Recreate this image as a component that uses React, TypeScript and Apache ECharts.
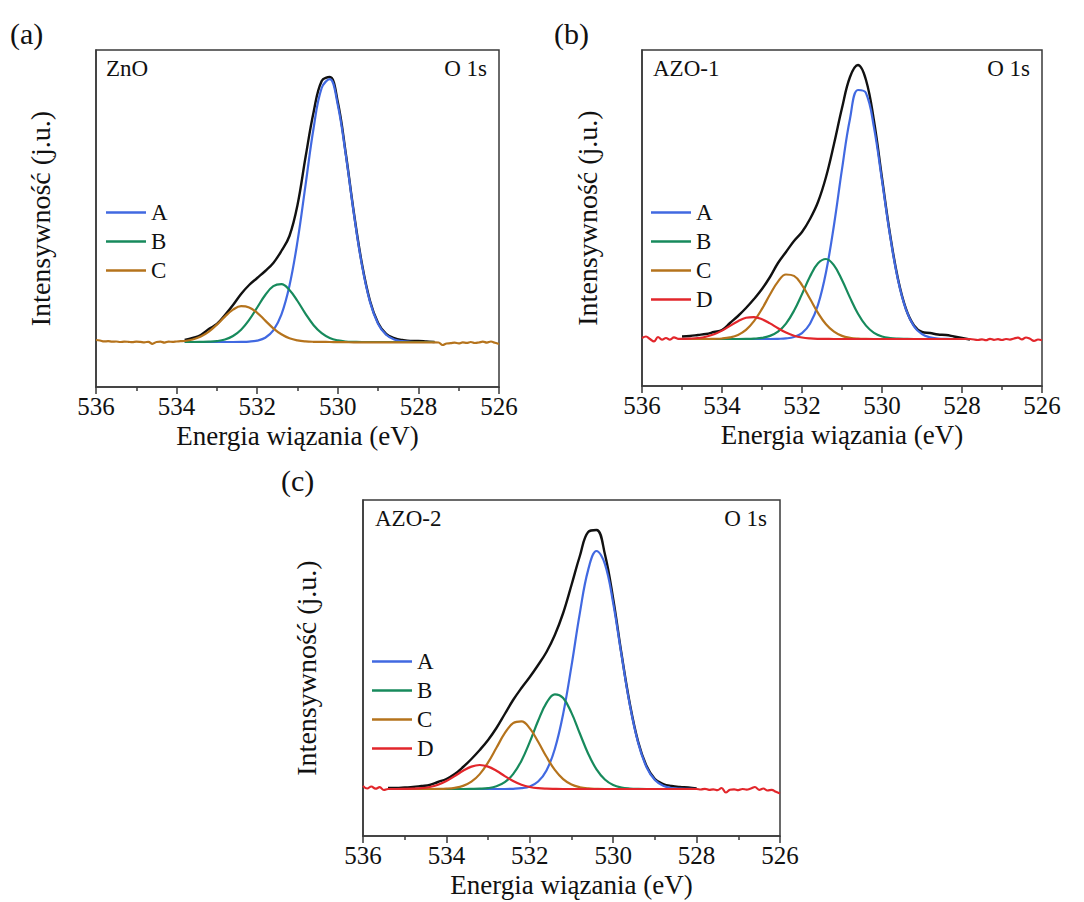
import React, { useEffect, useRef } from 'react';
import * as echarts from 'echarts';

// ---------- Panel (a): ZnO ----------
const ZNO_E = [533.8, 533.6, 533.4, 533.2, 533.0, 532.8, 532.6, 532.4, 532.2, 532.0, 531.8, 531.6, 531.4, 531.2, 531.0, 530.8, 530.6, 530.4, 530.2, 530.0, 529.8, 529.6, 529.4, 529.2, 529.0, 528.8, 528.6, 528.4, 528.2, 528.0, 527.8, 527.6];
const ZNO_EXP = [2, 4, 7, 13, 18, 27, 37, 48, 57, 64, 71, 79, 91, 106, 137, 185, 230, 261, 265, 240, 188, 129, 78, 41, 19, 8, 4, 2, 1, 1, 0.5, 0];
const ZNO_A = [0, 0, 0, 0, 0, 0, 0, 0.1, 0.4, 1.4, 4.3, 11.6, 27.3, 56.2, 100.6, 157.2, 214, 254, 262.9, 237, 186.6, 127.9, 76.6, 39.9, 18.1, 7.2, 2.5, 0.8, 0.2, 0, 0, 0];
const ZNO_B = [0, 0, 0.1, 0.3, 0.9, 2.5, 6.0, 12.3, 22.1, 34.5, 47.0, 55.8, 57.8, 52.1, 41.0, 28.1, 16.8, 8.8, 4.0, 1.6, 0.5, 0.2, 0, 0, 0, 0, 0, 0, 0, 0, 0, 0];
const ZNO_C = [1.0, 2.5, 5.4, 10.4, 17.4, 25.4, 32.3, 35.9, 34.6, 29.2, 21.4, 13.7, 7.7, 3.7, 1.6, 0.6, 0.2, 0.1, 0, -0.1, -0.2, -0.3, -0.3, -0.3, -0.3, -0.3, -0.3, -0.3, -0.3, -0.3, -0.3, -0.3];
const ZNO_LEFT_E = [536.0, 535.9, 535.8, 535.7, 535.6, 535.5, 535.4, 535.3, 535.2, 535.1, 535.0, 534.9, 534.8, 534.7, 534.6, 534.5, 534.4, 534.3, 534.2, 534.1, 534.0, 533.9];
const ZNO_LEFT_N = [2.0, 1.5, 0.6, 0.8, 0.3, 0.5, 0.0, 0.4, 0.2, -0.2, 0.3, 0.1, -0.3, 0.2, -1.8, 0.0, 0.3, -0.6, 0.4, 0.1, 0.5, 0.8];
const ZNO_RIGHT_E = [527.5, 527.4, 527.3, 527.2, 527.1, 527.0, 526.9, 526.8, 526.7, 526.6, 526.5, 526.4, 526.3, 526.2, 526.1, 526.0];
const ZNO_RIGHT_N = [-0.5, -3.0, -1.5, -1.2, -0.6, -1.4, -0.4, -0.9, 0.0, -1.0, -0.5, 0.3, -0.6, 0.5, -0.8, -2.0];

// ---------- Panel (b): AZO-1 ----------
const AZO1_E = [535.0, 534.8, 534.6, 534.4, 534.2, 534.0, 533.8, 533.6, 533.4, 533.2, 533.0, 532.8, 532.6, 532.4, 532.2, 532.0, 531.8, 531.6, 531.4, 531.2, 531.0, 530.8, 530.6, 530.4, 530.2, 530.0, 529.8, 529.6, 529.4, 529.2, 529.0, 528.8, 528.6, 528.4, 528.2, 528.0, 527.8];
const AZO1_EXP = [2.5, 3, 4, 5, 7, 9, 16, 23, 31, 40, 50, 62, 76, 87, 98, 107, 120, 137, 162, 195, 231, 262, 274, 259, 218, 161, 105, 60, 30, 13.5, 7, 6, 4.5, 4, 2.5, 1, -0.5];
const AZO1_A = [0, 0, 0, 0, 0, 0, 0, 0, 0, 0, 0, 0, 0.2, 0.6, 2.0, 5.9, 15.2, 34.1, 66.8, 114, 169.8, 220.3, 249, 245.9, 211.4, 158.5, 103.6, 59, 29.3, 12.7, 4.8, 1.6, 0.5, 0.1, 0, 0, 0];
const AZO1_B = [0, 0, 0, 0, 0, 0, 0, 0, 0.1, 0.4, 1.1, 3.1, 7.3, 15.4, 28.2, 44.9, 62.5, 75.7, 80, 73.6, 59.1, 41.4, 25.3, 13.4, 6.2, 2.5, 0.9, 0.3, 0.1, 0, 0, 0, 0, 0, 0, 0, 0];
const AZO1_C = [0, 0, 0, 0, 0.2, 0.5, 1.6, 4.1, 9.1, 17.8, 30.1, 44.5, 57.4, 64.5, 63.1, 53.9, 40.2, 26.1, 14.7, 7.3, 3.1, 1.2, 0.4, 0.1, 0, 0, 0, 0, 0, 0, 0, 0, 0, 0, 0, 0, 0];
const AZO1_D = [0.1, 0.4, 1.0, 2.3, 4.7, 8.4, 13.1, 17.8, 21.2, 21.9, 19.8, 15.6, 10.7, 6.4, 3.3, 1.5, 0.6, 0.2, 0.1, 0, 0, 0, 0, 0, 0, 0, 0, 0, 0, 0, 0, 0, 0, 0, 0, 0, 0];
const AZO1_LEFT_E = [536.0, 535.9, 535.8, 535.7, 535.6, 535.5, 535.4, 535.3, 535.2, 535.1];
const AZO1_LEFT_N = [1.0, 2.5, 0, -2.3, 2.0, -0.7, 1.0, -0.7, 1.6, 0.2];
const AZO1_RIGHT_E = [527.6, 527.5, 527.4, 527.3, 527.2, 527.1, 527.0, 526.9, 526.8, 526.7, 526.6, 526.5, 526.4, 526.3, 526.2, 526.1, 526.0];
const AZO1_RIGHT_N = [-1.0, -0.3, -1.2, 0.2, -0.8, -0.2, -1.0, 0.0, -0.6, 0.5, 1.3, -0.4, 1.5, 0.2, -1.8, -0.5, -1.2];

// ---------- Panel (c): AZO-2 ----------
const AZO2_E = [535.4, 535.2, 535.0, 534.8, 534.6, 534.4, 534.2, 534.0, 533.8, 533.6, 533.4, 533.2, 533.0, 532.8, 532.6, 532.4, 532.2, 532.0, 531.8, 531.6, 531.4, 531.2, 531.0, 530.8, 530.6, 530.4, 530.2, 530.0, 529.8, 529.6, 529.4, 529.2, 529.0, 528.8, 528.6, 528.4, 528.2, 528.0];
const AZO2_EXP = [1, 1, 1.5, 2, 3, 4, 7, 10, 15, 22, 30, 39, 49, 61, 75, 89, 101, 112, 124, 137, 154, 176, 204, 233, 257, 259, 235, 190, 135, 85, 47, 23, 10, 5, 3, 2, 1.5, 0.5];
const AZO2_A = [0, 0, 0, 0, 0, 0, 0, 0, 0, 0, 0, 0, 0, 0, 0, 0.2, 0.8, 2.6, 7.5, 18.6, 40.0, 75.1, 123.1, 175.9, 219.1, 238, 225.1, 185.8, 133.7, 83.8, 45.9, 21.8, 9.1, 3.3, 1.0, 0.3, 0.1, 0];
const AZO2_B = [0, 0, 0, 0, 0, 0, 0, 0, 0, 0, 0.1, 0.3, 0.9, 2.7, 6.8, 14.9, 28.3, 47.1, 68.2, 86.1, 94.7, 90.9, 76.1, 55.5, 35.3, 19.6, 9.5, 4.0, 1.5, 0.5, 0.1, 0, 0, 0, 0, 0, 0, 0];
const AZO2_C = [0, 0, 0, 0, 0, 0, 0.1, 0.4, 1.2, 3.1, 7.3, 14.9, 26.6, 41.2, 55.8, 65.8, 67.6, 60.6, 47.3, 32.2, 19.1, 9.9, 4.5, 1.8, 0.6, 0.2, 0, 0, 0, 0, 0, 0, 0, 0, 0, 0, 0, 0];
const AZO2_D = [0, 0, 0.1, 0.3, 0.8, 2.0, 4.3, 8.0, 12.9, 18.2, 22.4, 24, 22.4, 18.2, 12.9, 8.0, 4.3, 2.0, 0.8, 0.3, 0.1, 0, 0, 0, 0, 0, 0, 0, 0, 0, 0, 0, 0, 0, 0, 0, 0, 0];
const AZO2_LEFT_E = [536.0, 535.9, 535.8, 535.7, 535.6, 535.5];
const AZO2_LEFT_N = [3.0, 0.5, 2.5, 0.3, 1.8, -1.0];
const AZO2_RIGHT_E = [527.9, 527.8, 527.7, 527.6, 527.5, 527.4, 527.3, 527.2, 527.1, 527.0, 526.9, 526.8, 526.7, 526.6, 526.5, 526.4, 526.3, 526.2, 526.1, 526.0];
const AZO2_RIGHT_N = [-0.5, 0.2, -0.8, -0.3, -1.2, 1.0, -3.5, -0.8, -0.3, -1.2, 0.0, -0.6, 0.5, 2.0, -0.8, 0.5, -1.5, -0.8, -2.8, -4.5];

const X_TICKS = [536, 534, 532, 530, 528, 526];
const COMPONENTS = ['A', 'B', 'C', 'D'];
const COLORS: Record<string, string> = {
  Exp: '#111111',
  A: '#4169e1',
  B: '#178a5c',
  C: '#b5731c',
  D: '#e2262b',
};

const FONT = 'Times New Roman, Liberation Serif, DejaVu Serif, serif';

const pairs = (xs: number[], ys: number[]) => xs.map((x, i) => [x, ys[i]]);

export default function App() {
  const ref = useRef<HTMLDivElement>(null);

  useEffect(() => {
    if (!ref.current) return;
    const chart = echarts.init(ref.current, undefined, { renderer: 'svg' });

    const panels = [
      {
        grid: { left: 96, top: 50, width: 403, height: 337 },
        yMin: -45, yMax: 292, yGap: 42,
        series: [
          ['Exp', pairs(ZNO_E, ZNO_EXP)],
          ['A', pairs(ZNO_E, ZNO_A)],
          ['B', pairs(ZNO_E, ZNO_B)],
          ['C', [...pairs(ZNO_LEFT_E, ZNO_LEFT_N), ...pairs(ZNO_E, ZNO_C), ...pairs(ZNO_RIGHT_E, ZNO_RIGHT_N)]],
        ],
        legend: { left: 106, top: 201, data: ['A', 'B', 'C'] },
      },
      {
        grid: { left: 642, top: 50, width: 400, height: 336 },
        yMin: -47, yMax: 289, yGap: 41,
        series: [
          ['Exp', pairs(AZO1_E, AZO1_EXP)],
          ['A', pairs(AZO1_E, AZO1_A)],
          ['B', pairs(AZO1_E, AZO1_B)],
          ['C', pairs(AZO1_E, AZO1_C)],
          ['D', [...pairs(AZO1_LEFT_E, AZO1_LEFT_N), ...pairs(AZO1_E, AZO1_D), ...pairs(AZO1_RIGHT_E, AZO1_RIGHT_N)]],
        ],
        legend: { left: 651, top: 201, data: ['A', 'B', 'C', 'D'] },
      },
      {
        grid: { left: 363, top: 500, width: 417, height: 336 },
        yMin: -47, yMax: 289, yGap: 43,
        series: [
          ['Exp', pairs(AZO2_E, AZO2_EXP)],
          ['A', pairs(AZO2_E, AZO2_A)],
          ['B', pairs(AZO2_E, AZO2_B)],
          ['C', pairs(AZO2_E, AZO2_C)],
          ['D', [...pairs(AZO2_LEFT_E, AZO2_LEFT_N), ...pairs(AZO2_E, AZO2_D), ...pairs(AZO2_RIGHT_E, AZO2_RIGHT_N)]],
        ],
        legend: { left: 372, top: 650, data: ['A', 'B', 'C', 'D'] },
      },
    ];

    const axisColor = '#3a3a3a';
    const txt = { fontFamily: FONT, color: '#111' };

    const option: any = {
      animation: false,
      backgroundColor: '#ffffff',
      textStyle: { fontFamily: FONT },
      grid: panels.map((p) => ({
        ...p.grid,
        show: true,
        borderColor: axisColor,
        borderWidth: 1.5,
        containLabel: false,
      })),
      xAxis: panels.map((p, i) => ({
        type: 'value',
        gridIndex: i,
        min: X_TICKS[X_TICKS.length - 1],
        max: X_TICKS[0],
        interval: 2,
        inverse: true,
        name: 'Energia wiązania (eV)',
        nameLocation: 'middle',
        nameGap: 35,
        nameTextStyle: { ...txt, fontSize: 27 },
        axisLine: { show: true, onZero: false, lineStyle: { color: axisColor, width: 1.5 } },
        axisTick: { show: true, inside: false, length: 7, lineStyle: { color: axisColor, width: 1.5 } },
        minorTick: { show: true, splitNumber: 2, length: 4, lineStyle: { color: axisColor, width: 1.5 } },
        axisLabel: { ...txt, fontSize: 25, margin: 7 },
        splitLine: { show: false },
        minorSplitLine: { show: false },
      })),
      yAxis: panels.map((p, i) => ({
        type: 'value',
        gridIndex: i,
        min: p.yMin,
        max: p.yMax,
        name: 'Intensywność (j.u.)',
        nameLocation: 'middle',
        nameRotate: 90,
        nameGap: p.yGap,
        nameTextStyle: { ...txt, fontSize: 28 },
        axisLine: { show: true, onZero: false, lineStyle: { color: axisColor, width: 1.5 } },
        axisTick: { show: false },
        axisLabel: { show: false },
        splitLine: { show: false },
      })),
      legend: panels.map((p) => ({
        orient: 'vertical',
        left: p.legend.left,
        top: p.legend.top,
        data: p.legend.data,
        icon: 'rect',
        itemWidth: 40,
        itemHeight: 2.5,
        itemGap: 6,
        selectedMode: false,
        padding: 0,
        textStyle: { ...txt, fontSize: 23, lineHeight: 23 },
      })),
      series: panels.flatMap((p, i) =>
        p.series.map(([name, data]) => ({
          type: 'line',
          name,
          xAxisIndex: i,
          yAxisIndex: i,
          data,
          smooth: 0.4,
          symbol: 'none',
          showSymbol: false,
          clip: true,
          color: COLORS[name as string],
          itemStyle: { color: COLORS[name as string] },
          lineStyle: { color: COLORS[name as string], width: name === 'Exp' ? 2.4 : 2.2 },
          z: name === 'Exp' ? 2 : 3 + COMPONENTS.indexOf(name as string),
        }))
      ),
      graphic: [
        { type: 'text', x: 10, y: 33, style: { text: '(a)', fill: '#111', fontSize: 30, fontFamily: FONT, align: 'left', verticalAlign: 'middle' } },
        { type: 'text', x: 554, y: 33, style: { text: '(b)', fill: '#111', fontSize: 30, fontFamily: FONT, align: 'left', verticalAlign: 'middle' } },
        { type: 'text', x: 281, y: 480, style: { text: '(c)', fill: '#111', fontSize: 30, fontFamily: FONT, align: 'left', verticalAlign: 'middle' } },
        { type: 'text', x: 106, y: 68, style: { text: 'ZnO', fill: '#111', fontSize: 23, fontFamily: FONT, align: 'left', verticalAlign: 'middle' } },
        { type: 'text', x: 487, y: 68, style: { text: 'O 1s', fill: '#111', fontSize: 23, fontFamily: FONT, align: 'right', verticalAlign: 'middle' } },
        { type: 'text', x: 653, y: 68, style: { text: 'AZO-1', fill: '#111', fontSize: 23, fontFamily: FONT, align: 'left', verticalAlign: 'middle' } },
        { type: 'text', x: 1030, y: 68, style: { text: 'O 1s', fill: '#111', fontSize: 23, fontFamily: FONT, align: 'right', verticalAlign: 'middle' } },
        { type: 'text', x: 375, y: 518, style: { text: 'AZO-2', fill: '#111', fontSize: 23, fontFamily: FONT, align: 'left', verticalAlign: 'middle' } },
        { type: 'text', x: 767, y: 518, style: { text: 'O 1s', fill: '#111', fontSize: 23, fontFamily: FONT, align: 'right', verticalAlign: 'middle' } },
      ],
    };

    chart.setOption(option);
    return () => chart.dispose();
  }, []);

  return (
    <div
      ref={ref}
      style={{ position: 'absolute', left: 0, top: 0, width: 1084, height: 902, background: '#fff' }}
    />
  );
}
